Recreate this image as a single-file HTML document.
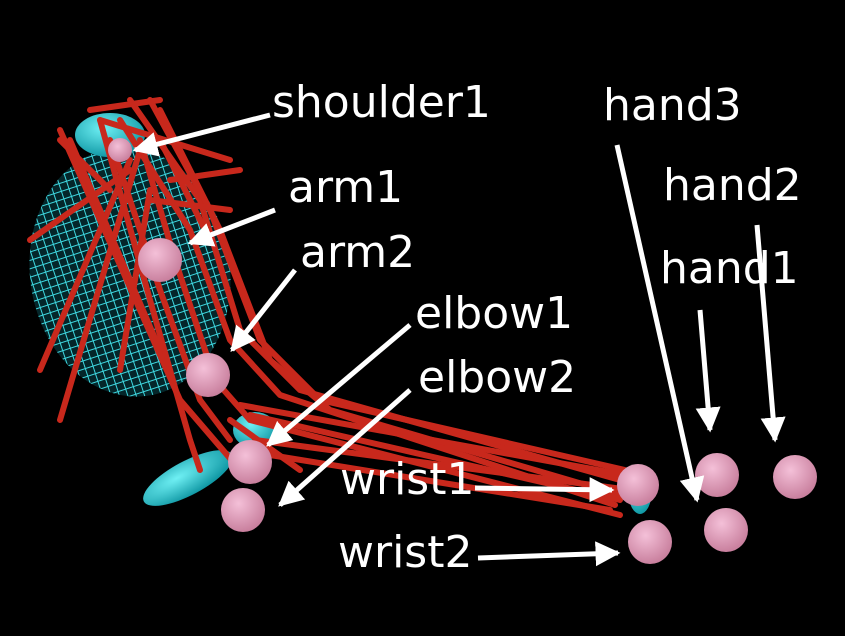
<!DOCTYPE html>
<html><head><meta charset="utf-8"><style>
html,body{margin:0;padding:0;background:#000;}
svg{display:block;}
text{font-family:"DejaVu Sans","Liberation Sans",sans-serif;fill:#fff;font-size:44px;}
</style></head><body>
<svg id="s" width="845" height="636" viewBox="0 0 845 636">
<defs>
<pattern id="mesh" width="8" height="8" patternUnits="userSpaceOnUse" patternTransform="rotate(-10)">
<rect width="8" height="8" fill="#04262a"/>
<path d="M0 0H8M0 0V8" stroke="#3fd8e0" stroke-width="2"/>
</pattern>
<radialGradient id="pink" cx="40%" cy="35%" r="65%"><stop offset="0" stop-color="#f4c0d8"/><stop offset="1" stop-color="#c9809e"/></radialGradient>
<radialGradient id="cyan" cx="40%" cy="35%" r="65%"><stop offset="0" stop-color="#6ff0f4"/><stop offset="1" stop-color="#129aa6"/></radialGradient>
<marker id="ah" viewBox="0 0 10 10" refX="9" refY="5" markerWidth="5" markerHeight="5" orient="auto"><path d="M0 0L10 5L0 10z" fill="#fff"/></marker>
</defs>
<ellipse cx="130" cy="272" rx="100" ry="125" transform="rotate(-8 130 272)" fill="url(#mesh)"/>
<ellipse cx="110" cy="135" rx="35" ry="22" fill="url(#cyan)"/>
<ellipse cx="188" cy="478" rx="50" ry="17" transform="rotate(-28 188 478)" fill="url(#cyan)"/>
<ellipse cx="255" cy="430" rx="22" ry="18" fill="url(#cyan)"/>
<ellipse cx="640" cy="490" rx="12" ry="24" fill="url(#cyan)"/>
<g id="muscles" fill="none" stroke="#c8281c" stroke-width="6" stroke-linecap="round" stroke-linejoin="round"></g>
<g id="joints"></g>
<g id="arrows" stroke="#fff" stroke-width="5" marker-end="url(#ah)"></g>
<g>
<text x="272" y="117">shoulder1</text>
<text x="288" y="202">arm1</text>
<text x="300" y="267">arm2</text>
<text x="415" y="328">elbow1</text>
<text x="418" y="392">elbow2</text>
<text x="340" y="494">wrist1</text>
<text x="338" y="567">wrist2</text>
<text x="603" y="120">hand3</text>
<text x="663" y="200">hand2</text>
<text x="660" y="283">hand1</text>
</g>
</svg>
<script>
const muscleLines=[
[[130,100,200,200,240,330,300,390,620,480]],
[[150,100,210,210,260,340,320,400,625,470]],
[[160,110,220,230,270,360,330,410,620,495]],
[[120,120,190,230,230,340,280,395,615,505]],
[[140,140,175,260,215,380,250,420,620,515]],
[[110,140,160,290,200,400,230,440]],
[[100,120,150,300,190,440,200,470]],
[[140,150,60,420]],[[130,160,40,370]],[[130,170,30,240]],[[150,190,120,370]],
[[60,130,180,400,240,470]],[[70,140,160,350]],
[[90,110,160,100]],[[100,120,230,160]],[[160,140,210,240]],[[60,140,110,190]],
[[240,405,625,475]],[[250,415,620,500]],[[255,440,630,490]],[[270,455,610,510]],[[230,420,300,470]],
[[150,200,230,210]],[[170,180,240,170]]
];
const joints=[[160,260,22],[208,375,22],[250,462,22],[243,510,22],[638,485,21],[650,542,22],[717,475,22],[726,530,22],[795,477,22],[120,150,12]];
const arrows=[[270,115,135,150],[275,210,190,243],[295,270,232,350],[410,325,268,445],[410,390,280,505],[475,488,612,490],[478,558,618,553],[617,145,697,500],[757,225,775,440],[700,310,710,430]];
const ns='http://www.w3.org/2000/svg';
const mg=document.getElementById('muscles');
muscleLines.forEach(m=>{const l=document.createElementNS(ns,'polyline');
l.setAttribute('points',m[0].join(' '));


mg.appendChild(l);});
const jg=document.getElementById('joints');
joints.forEach(j=>{const c=document.createElementNS(ns,'circle');
c.setAttribute('cx',j[0]);c.setAttribute('cy',j[1]);c.setAttribute('r',j[2]);c.setAttribute('fill','url(#pink)');


jg.appendChild(c);});
const ag=document.getElementById('arrows');
arrows.forEach(a=>{const l=document.createElementNS(ns,'line');
l.setAttribute('x1',a[0]);l.setAttribute('y1',a[1]);l.setAttribute('x2',a[2]);l.setAttribute('y2',a[3]);


ag.appendChild(l);});
</script>
</body></html>
